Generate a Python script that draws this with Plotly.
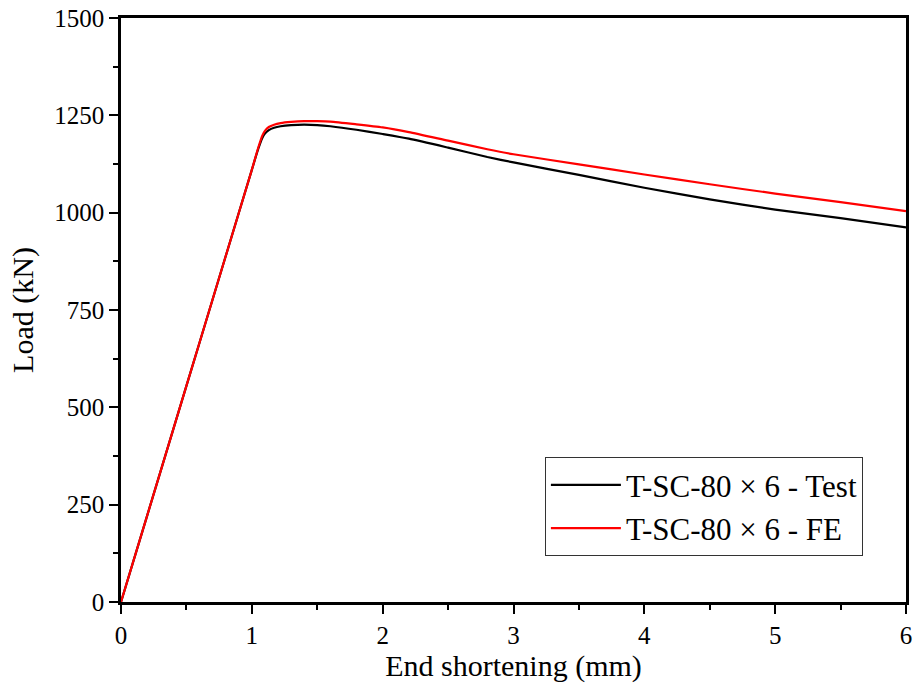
import plotly.graph_objects as go

# End shortening (mm) and load (kN) for the test curve
test_x = [0, 0.2, 0.4, 0.6, 0.8, 1.0, 1.05, 1.08, 1.1, 1.13, 1.17, 1.22, 1.3, 1.4, 1.5, 1.6,
          1.8, 2.0, 2.2, 2.5, 2.8, 3.0, 3.5, 4.0, 4.5, 5.0, 5.5, 6.0]
test_y = [0, 222, 444, 666, 888, 1110, 1165, 1192, 1203, 1212, 1218, 1222, 1225, 1226, 1225, 1222,
          1213, 1202, 1190, 1167, 1143, 1129, 1097, 1064, 1034, 1008, 986, 962]

# Finite element prediction
fe_x = [0, 0.2, 0.4, 0.6, 0.8, 1.0, 1.05, 1.08, 1.1, 1.13, 1.17, 1.22, 1.3, 1.4, 1.5, 1.6,
        1.8, 2.0, 2.2, 2.5, 2.8, 3.0, 3.5, 4.0, 4.5, 5.0, 5.5, 6.0]
fe_y = [0, 222, 444, 666, 888, 1110, 1168, 1198, 1210, 1220, 1226, 1230, 1233, 1235, 1235, 1234,
        1227, 1219, 1207, 1185, 1163, 1150, 1124, 1098, 1073, 1049, 1027, 1004]

series_names = ["T-SC-80 × 6 - Test", "T-SC-80 × 6 - FE"]
x_ticks = [0, 1, 2, 3, 4, 5, 6]
y_ticks = [0, 250, 500, 750, 1000, 1250, 1500]

FONT = "Liberation Serif, Times New Roman, serif"

fig = go.Figure()
fig.add_trace(go.Scatter(x=test_x, y=test_y, mode="lines", name=series_names[0],
                         line=dict(color="black", width=2.2, shape="spline", smoothing=0.6)))
fig.add_trace(go.Scatter(x=fe_x, y=fe_y, mode="lines", name=series_names[1],
                         line=dict(color="#ff0000", width=2.2, shape="spline", smoothing=0.6)))

axis_common = dict(
    showline=True, linecolor="black", linewidth=2.5, mirror=True,
    ticks="outside", ticklen=9, tickwidth=2, tickcolor="black",
    showgrid=False, zeroline=False,
    tickfont=dict(family=FONT, size=25, color="black"),
)

fig.update_xaxes(
    range=[0, 6], tickvals=x_ticks,
    minor=dict(ticks="outside", ticklen=5, tickwidth=2, tickcolor="black", dtick=0.5, showgrid=False),
    title=dict(text="End shortening (mm)", font=dict(family=FONT, size=30, color="black"), standoff=2),
    **axis_common,
)
fig.update_yaxes(
    range=[0, 1500], tickvals=y_ticks,
    minor=dict(ticks="outside", ticklen=5, tickwidth=2, tickcolor="black", dtick=125, showgrid=False),
    title=dict(text="Load (kN)", font=dict(family=FONT, size=30, color="black"), standoff=12),
    **axis_common,
)

fig.update_layout(
    width=914, height=684,
    margin=dict(l=121, r=8, t=18, b=82, autoexpand=False),
    paper_bgcolor="white", plot_bgcolor="white",
    font=dict(family=FONT, color="black"),
    legend=dict(
        x=0.54, y=0.248, xanchor="left", yanchor="top",
        bgcolor="white", bordercolor="#333333", borderwidth=1,
        font=dict(family=FONT, size=31, color="black"),
        tracegroupgap=0, itemwidth=70,
    ),
    showlegend=True,
)

fig.write_html("out.html")
